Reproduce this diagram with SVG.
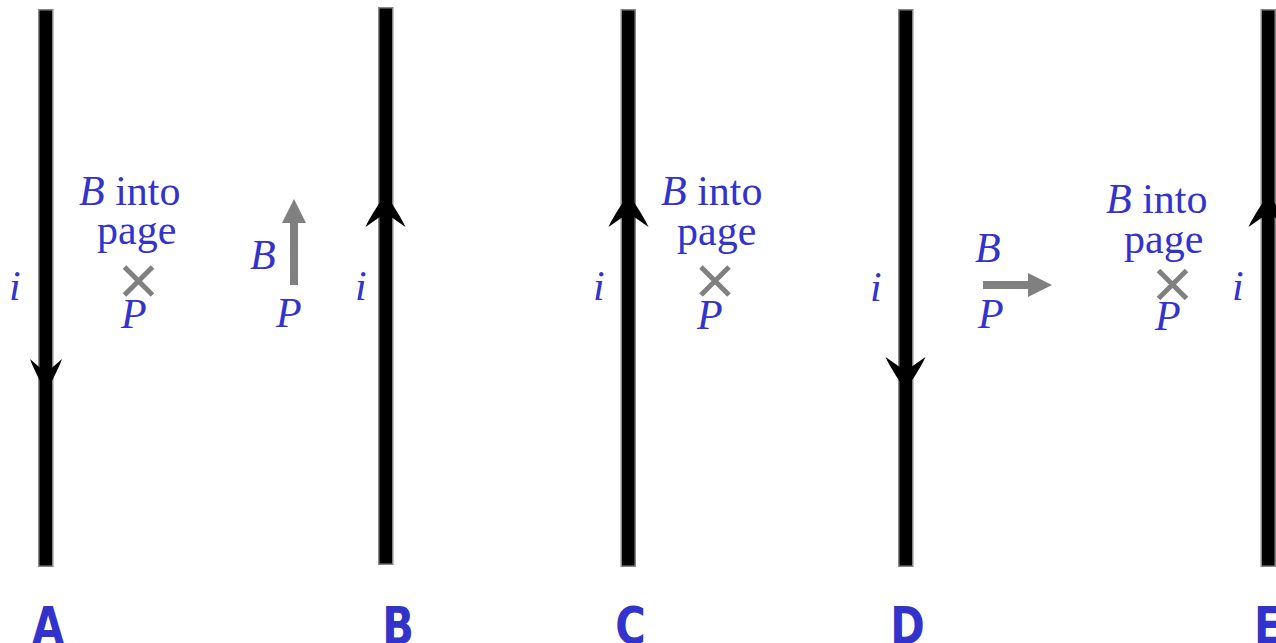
<svg xmlns="http://www.w3.org/2000/svg" width="1276" height="643" viewBox="0 0 1276 643">
<style>
.wire{fill:#000;stroke:#888;stroke-width:1.5}
.t{font-family:"Liberation Serif","Times New Roman",serif;font-size:42px;fill:#3333CC}
.it{font-style:italic}
.lbl{font-family:"DejaVu Sans",Verdana,sans-serif;font-weight:bold;font-size:52px;fill:#3333CC;text-anchor:middle}
.x{stroke:#808080;stroke-width:5;fill:none}
.g{fill:#808080}
</style>
<defs>
<path id="ah" d="M0,0 C-4,-6 -14,-20 -20,-33 L0,-19 L20,-33 C14,-20 4,-6 0,0 Z" fill="#000"/>
<path id="cross" d="M-14,-14 L14,14 M-14,14 L14,-14" class="x"/>
</defs>
<g id="wires">
<rect class="wire" x="38.75" y="9.75" width="14" height="556.5"/>
<rect class="wire" x="378.75" y="7.75" width="14" height="556.5"/>
<rect class="wire" x="621.25" y="9.75" width="14" height="556.5"/>
<rect class="wire" x="898.75" y="9.75" width="14" height="556.5"/>
<rect class="wire" x="1261.25" y="9.75" width="14" height="556.5"/>
<use href="#ah" transform="translate(46,392) scale(0.8,1)"/>
<use href="#ah" transform="translate(385.5,194) scale(1,-1)"/>
<use href="#ah" transform="translate(628.5,194) scale(1,-1)"/>
<use href="#ah" transform="translate(905.5,390)"/>
<use href="#ah" transform="translate(1268.5,194) scale(1,-1)"/>
</g>
<g id="panelA">
<text class="t" x="9" y="300"><tspan class="it">i</tspan></text>
<text class="t" x="79" y="205"><tspan class="it">B</tspan> into</text>
<text class="t" x="97" y="244">page</text>
<use href="#cross" transform="translate(138.5,281)"/>
<text class="t it" x="121" y="328">P</text>
<text class="lbl" transform="translate(48,644) scale(0.8,1)">A</text>
</g>
<g id="panelB">
<rect class="g" x="290" y="222" width="8" height="63"/>
<path class="g" d="M294,199 L306,223 L282,223 Z"/>
<text class="t it" x="250" y="269">B</text>
<text class="t it" x="276" y="327">P</text>
<text class="t it" x="355" y="300">i</text>
<text class="lbl" transform="translate(398,644) scale(0.8,1)">B</text>
</g>
<g id="panelC">
<text class="t it" x="593" y="300">i</text>
<text class="t" x="661" y="205"><tspan class="it">B</tspan> into</text>
<text class="t" x="677" y="245">page</text>
<use href="#cross" transform="translate(715,281)"/>
<text class="t it" x="697" y="329">P</text>
<text class="lbl" transform="translate(630.5,644) scale(0.8,1)">C</text>
</g>
<g id="panelD">
<text class="t it" x="870" y="301">i</text>
<rect class="g" x="983" y="281" width="46" height="8"/>
<path class="g" d="M1052,285 L1028,273 L1028,297 Z"/>
<text class="t it" x="975" y="262">B</text>
<text class="t it" x="978" y="328">P</text>
<text class="lbl" transform="translate(907.5,644) scale(0.8,1)">D</text>
</g>
<g id="panelE">
<text class="t" x="1106" y="213"><tspan class="it">B</tspan> into</text>
<text class="t" x="1124" y="253">page</text>
<use href="#cross" transform="translate(1172.5,284.5)"/>
<text class="t it" x="1155" y="330">P</text>
<text class="t it" x="1232" y="300">i</text>
<text class="lbl" style="text-anchor:start" transform="translate(1254,644) scale(0.8,1)">E</text>
</g>
</svg>
